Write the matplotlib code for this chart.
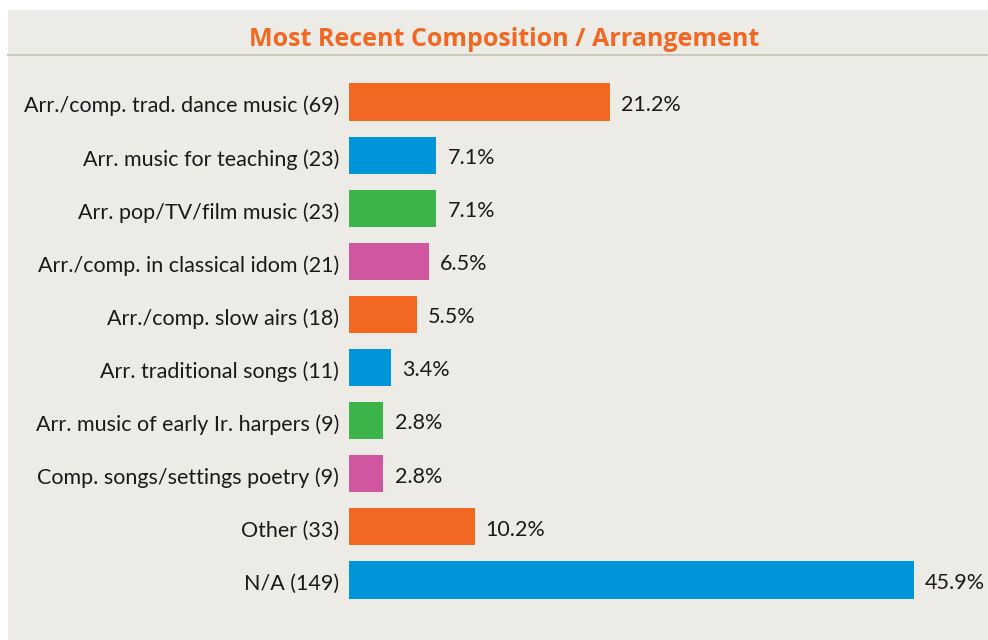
import matplotlib
matplotlib.use("Agg")
import matplotlib.pyplot as plt
import matplotlib.transforms as mtransforms
from matplotlib.patches import Rectangle
from matplotlib.lines import Line2D

categories = [
    "Arr./comp. trad. dance music (69)",
    "Arr. music for teaching (23)",
    "Arr. pop/TV/film music (23)",
    "Arr./comp. in classical idom (21)",
    "Arr./comp. slow airs (18)",
    "Arr. traditional songs (11)",
    "Arr. music of early Ir. harpers (9)",
    "Comp. songs/settings poetry (9)",
    "Other (33)",
    "N/A (149)",
]
values = [21.2, 7.1, 7.1, 6.5, 5.5, 3.4, 2.8, 2.8, 10.2, 45.9]
value_labels = ["21.2%", "7.1%", "7.1%", "6.5%", "5.5%", "3.4%", "2.8%", "2.8%", "10.2%", "45.9%"]
title = "Most Recent Composition / Arrangement"

ORANGE = "#F26722"
BLUE = "#0095D9"
GREEN = "#3BB54A"
PINK = "#D056A0"
colors = [ORANGE, BLUE, GREEN, PINK, ORANGE, BLUE, GREEN, PINK, ORANGE, BLUE]
BG = "#ECEBE6"

plt.rcParams['font.family'] = ['Lato', 'DejaVu Sans']

W, H = 988, 640
fig = plt.figure(figsize=(W / 100, H / 100), dpi=100)
fig.patch.set_facecolor("white")

# panel background
fig.add_artist(Rectangle((8 / W, 0), 1 - 8 / W, 1 - 10 / H, transform=fig.transFigure,
                         facecolor=BG, edgecolor="none", zorder=0))
# title underline
fig.add_artist(Line2D([8 / W, 1], [1 - 55 / H, 1 - 55 / H], transform=fig.transFigure,
                      color="#C9C9BC", lw=1.5, zorder=1))
fig.text(504 / W, 1 - 39 / H, title, ha="center", va="center", color=ORANGE,
         fontsize=18, fontweight="bold", family=['Open Sans', 'DejaVu Sans'])

# axes in pixel coordinates
left, right = 349, 988
top, bottom = 75.5, 606.5
ax = fig.add_axes([left / W, 1 - bottom / H, (right - left) / W, (bottom - top) / H])
ax.set_facecolor("none")
pxper = (914 - 349) / 45.9
ax.set_xlim(0, (right - left) / pxper)
ax.set_ylim(len(categories) - 0.5, -0.5)

ypos = list(range(len(categories)))
ax.barh(ypos, values, height=0.70, color=colors, zorder=2)
for y, v, lab in zip(ypos, values, value_labels):
    ax.annotate(lab, (v, y), xytext=(8, -2), textcoords="offset points",
                ha="left", va="center", fontsize=15.5, color="#1a1a1a")

ax.set_yticks(ypos)
ax.set_yticklabels(categories, fontsize=15.5, color="#1a1a1a")
ax.tick_params(axis="y", length=0, pad=7)
offset = mtransforms.ScaledTranslation(0, -1.5 / 72, fig.dpi_scale_trans)
for lbl in ax.get_yticklabels():
    lbl.set_transform(lbl.get_transform() + offset)
ax.set_xticks([])
for s in ax.spines.values():
    s.set_visible(False)

fig.savefig("out.png", dpi=100, facecolor=fig.get_facecolor())
